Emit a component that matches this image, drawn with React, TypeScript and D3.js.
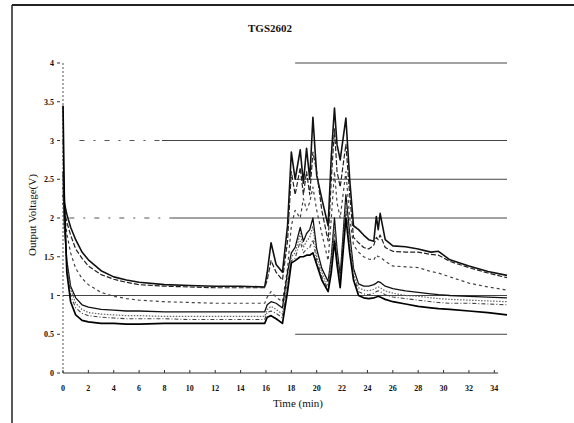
import React from "react";
import * as d3 from "d3";

const title = "TGS2602";
const xLabel = "Time (min)";
const yLabel = "Output Voltage(V)";

const xTicks = [0, 2, 4, 6, 8, 10, 12, 14, 16, 18, 20, 22, 24, 26, 28, 30, 32, 34];
const yTicks = [0, 0.5, 1, 1.5, 2, 2.5, 3, 3.5, 4];
const yTickLabels = ["0", "0.5", "1", "1.5", "2", "2.5", "3", "3.5", "4"];

// horizontal reference lines: value, starting time, end of the broken (dashed) part
const gridValues = [4, 3, 2.5, 2, 1, 0.5];
const gridStarts = [18.3, 1.3, 18.3, 0.5, 0, 18.3];
const gridDashEnds = [18.3, 7.8, 18.3, 8.6, 0, 18.3];

const times = [
  0, 0.1, 0.3, 0.6, 1, 1.5, 2, 3, 4, 5, 6, 8, 10, 12, 14, 15.9, 16.1, 16.4, 16.8, 17.3,
  17.7, 18.0, 18.3, 18.7, 18.95, 19.2, 19.45, 19.7, 20.0, 20.4, 20.9, 21.15, 21.4, 21.6,
  21.85, 22.3, 22.6, 22.9, 23.3, 23.7, 24.1, 24.5, 24.7, 24.85, 25.0, 25.4, 26, 27, 28, 29,
  29.6, 30.5, 32, 33.5, 35,
];

const seriesA = [
  2.3, 2.2, 2.05, 1.88, 1.72, 1.56, 1.46, 1.32, 1.24, 1.2, 1.17, 1.14, 1.13, 1.12, 1.12, 1.11, 1.3, 1.68, 1.4, 1.3,
  1.9, 2.85, 2.5, 2.88, 2.45, 2.9, 2.5, 3.3, 2.55, 2.25, 1.9, 2.8, 3.42, 2.95,
  2.75, 3.29, 2.5, 1.9, 1.85, 1.78, 1.72, 1.7, 2.02, 1.85, 2.06, 1.72, 1.64, 1.63, 1.6, 1.56,
  1.57, 1.46, 1.38, 1.31, 1.26,
];
const seriesB = [
  2.2, 2.1, 1.95, 1.78, 1.6, 1.48, 1.38, 1.27, 1.21, 1.17, 1.14, 1.12, 1.11, 1.1, 1.1, 1.1, 1.2, 1.45, 1.3, 1.2,
  1.7, 2.6, 2.3, 2.65, 2.3, 2.6, 2.3, 2.85, 2.6, 2.1, 1.7, 2.5, 3.15, 2.6,
  2.4, 2.95, 2.3, 1.75, 1.68, 1.62, 1.6, 1.65, 1.75, 1.72, 1.78, 1.62, 1.57, 1.56, 1.56, 1.53,
  1.52, 1.44, 1.36, 1.29, 1.23,
];
const seriesC = [
  2.4, 2.1, 1.8, 1.55, 1.35, 1.22, 1.14, 1.04, 0.99, 0.96, 0.94, 0.92, 0.91, 0.9, 0.9, 0.9, 0.98, 1.05, 0.98, 0.92,
  1.35, 1.9, 2.1, 2.0, 2.25, 2.1, 2.2, 2.4, 2.1, 1.8, 1.45, 2.0, 2.6, 2.2,
  2.0, 2.6, 2.0, 1.65, 1.56, 1.5, 1.47, 1.46, 1.52, 1.5, 1.5, 1.44, 1.38, 1.37, 1.36, 1.31,
  1.29, 1.24, 1.16, 1.11, 1.07,
];
const seriesD = [
  2.6, 1.9, 1.45, 1.12, 0.97, 0.88, 0.85, 0.82, 0.81, 0.8, 0.8, 0.79, 0.79, 0.79, 0.79, 0.79, 0.88, 0.92, 0.9, 0.84,
  1.3, 1.55, 1.62, 1.88, 1.7, 1.8, 1.85, 2.0, 1.6, 1.35, 1.18, 1.5, 2.0, 1.6,
  1.25, 2.3, 1.8, 1.35, 1.15, 1.12, 1.12, 1.14, 1.16, 1.18, 1.17, 1.12, 1.09, 1.06, 1.04, 1.02,
  1.01, 1.0, 0.99, 0.98, 0.97,
];
const seriesE = [
  2.8, 2.0, 1.4, 1.08, 0.9, 0.82, 0.78, 0.76, 0.75, 0.74, 0.74, 0.73, 0.73, 0.73, 0.73, 0.73, 0.82, 0.86, 0.82, 0.76,
  1.2, 1.5, 1.55, 1.8, 1.62, 1.7, 1.75, 1.9, 1.5, 1.3, 1.12, 1.45, 1.9, 1.5,
  1.2, 2.2, 1.7, 1.3, 1.1, 1.07, 1.06, 1.08, 1.1, 1.11, 1.1, 1.06, 1.03, 1.0, 0.99, 0.97,
  0.96, 0.95, 0.94, 0.93, 0.92,
];
const seriesF = [
  3.0, 2.1, 1.35, 1.0, 0.84, 0.77, 0.74, 0.72, 0.71, 0.7, 0.7, 0.7, 0.69, 0.69, 0.69, 0.69, 0.78, 0.8, 0.77, 0.71,
  1.15, 1.45, 1.48, 1.7, 1.55, 1.6, 1.62, 1.72, 1.45, 1.25, 1.08, 1.4, 1.8, 1.45,
  1.15, 2.1, 1.6, 1.25, 1.05, 1.02, 1.01, 1.03, 1.05, 1.06, 1.05, 1.01, 0.98, 0.96, 0.94, 0.92,
  0.91, 0.9, 0.9, 0.89, 0.88,
];
const seriesG = [
  3.45, 2.3, 1.3, 0.92, 0.75, 0.68, 0.66, 0.64, 0.64, 0.63, 0.63, 0.64, 0.64, 0.64, 0.64, 0.64, 0.72, 0.74, 0.7, 0.64,
  1.05, 1.42, 1.45, 1.5, 1.5, 1.52, 1.52, 1.55, 1.4, 1.2, 1.05, 1.3, 1.7, 1.4,
  1.1, 2.0, 1.55, 1.2, 1.0, 0.97, 0.96, 0.97, 0.98, 0.99, 0.98, 0.95, 0.92, 0.89, 0.86, 0.84,
  0.83, 0.82, 0.8, 0.78, 0.75,
];

const seriesList = [seriesA, seriesB, seriesC, seriesD, seriesE, seriesF, seriesG];
const seriesStyles = [
  { stroke: "#111", width: 1.6, dash: "" },
  { stroke: "#222", width: 1.2, dash: "5,2" },
  { stroke: "#444", width: 1.2, dash: "3,3" },
  { stroke: "#111", width: 1.3, dash: "" },
  { stroke: "#666", width: 1.2, dash: "1.5,1.5" },
  { stroke: "#444", width: 1.1, dash: "4,2,1,2" },
  { stroke: "#000", width: 1.7, dash: "" },
];

const FONT = "'Liberation Serif', 'DejaVu Serif', serif";

export default function App() {
  const W = 574;
  const H = 423;
  const x = d3.scaleLinear().domain([0, 35]).range([63, 507]);
  const y = d3.scaleLinear().domain([0, 4]).range([373, 63]);

  const line = d3
    .line<number>()
    .x((_, i) => x(times[i]))
    .y((v) => y(v));

  return (
    <svg
      width={W}
      height={H}
      style={{ position: "absolute", left: 0, top: 0, background: "#fff" }}
      fontFamily={FONT}
    >
      <rect x={0} y={0} width={W} height={H} fill="#fff" />
      {/* frame */}
      <line x1={12} y1={5} x2={W} y2={5} stroke="#222" strokeWidth={2} />
      <line x1={12} y1={5} x2={12} y2={H} stroke="#222" strokeWidth={1.5} />

      <text x={270} y={32} textAnchor="middle" fontSize={11} fill="#111" fontWeight="bold">
        {title}
      </text>

      {/* reference lines */}
      {gridValues.map((v, i) => (
        <g key={"g" + i}>
          {gridDashEnds[i] > gridStarts[i] && (
            <line
              x1={x(gridStarts[i])}
              x2={x(gridDashEnds[i])}
              y1={y(v)}
              y2={y(v)}
              stroke="#555"
              strokeWidth={1}
              strokeDasharray="5,9,2,9"
            />
          )}
          <line
            x1={x(Math.max(gridStarts[i], gridDashEnds[i]))}
            x2={x(35)}
            y1={y(v)}
            y2={y(v)}
            stroke="#444"
            strokeWidth={1}
          />
        </g>
      ))}

      {/* y axis */}
      <line x1={x(0)} x2={x(0)} y1={y(4)} y2={y(0)} stroke="#555" strokeWidth={1} strokeDasharray="2,2" />
      {yTicks.map((v, i) => (
        <g key={"yt" + i}>
          <line x1={x(0) - 6} x2={x(0) - 3} y1={y(v)} y2={y(v)} stroke="#333" strokeWidth={1} />
          <text x={x(0) - 9} y={y(v) + 3} textAnchor="end" fontSize={8} fill="#111" fontWeight="bold">
            {yTickLabels[i]}
          </text>
        </g>
      ))}

      {/* x axis */}
      <line x1={x(0)} x2={x(34.3)} y1={y(0)} y2={y(0)} stroke="#333" strokeWidth={1.2} />
      {xTicks.map((t) => (
        <g key={"xt" + t}>
          <line x1={x(t)} x2={x(t)} y1={y(0)} y2={y(0) - 3} stroke="#333" strokeWidth={1} />
          <text x={x(t)} y={391} textAnchor="middle" fontSize={8} fill="#111" fontWeight="bold">
            {t}
          </text>
        </g>
      ))}

      <text x={298} y={407} textAnchor="middle" fontSize={11} fill="#111">
        {xLabel}
      </text>
      <text
        transform={`translate(36, 215) rotate(-90)`}
        textAnchor="middle"
        fontSize={11}
        fill="#111"
      >
        {yLabel}
      </text>

      {/* series */}
      {seriesList.map((s, i) => (
        <path
          key={"s" + i}
          d={line(s) || ""}
          fill="none"
          stroke={seriesStyles[i].stroke}
          strokeWidth={seriesStyles[i].width}
          strokeDasharray={seriesStyles[i].dash}
          strokeLinejoin="round"
        />
      ))}
    </svg>
  );
}
